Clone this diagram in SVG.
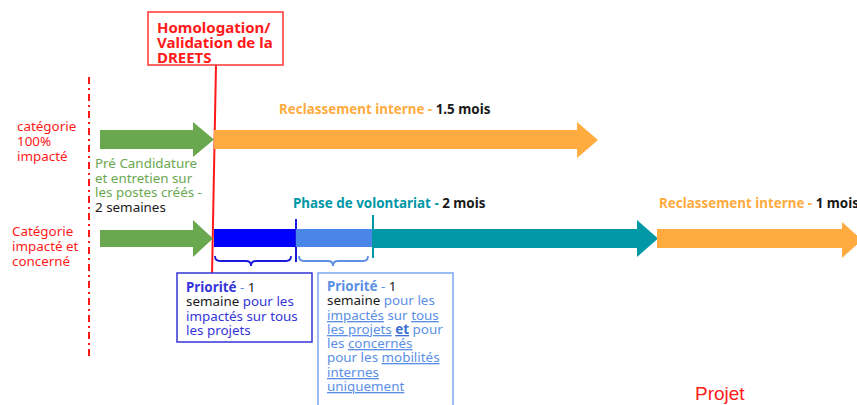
<svg xmlns="http://www.w3.org/2000/svg" width="857" height="405" viewBox="0 0 857 405">
<style>
text{font-family:"Noto Sans","Open Sans",sans-serif;font-size:13.4px}
.b{font-weight:bold}
.h{font-size:15px;font-weight:bold}
.red{fill:#ff1a1a}
.or{fill:#ffab40}
.dk{fill:#1a1a1a}
.gr{fill:#6aa84f}
.tl{fill:#0097a7}
.db{fill:#3535d8}
.lb{fill:#5b8fe6}
.u{text-decoration:underline}
.pj{font-family:"Liberation Sans",Arial,sans-serif;font-size:19px}
</style>
<rect width="857" height="405" fill="#fff"/>
<g id="connectors">
<line x1="89" y1="77" x2="89" y2="356" stroke="#ff1a1a" stroke-width="2" stroke-dasharray="7,4,2,4"/>
<line x1="216" y1="65" x2="212" y2="276" stroke="#ff1a1a" stroke-width="2"/>
</g>
<g id="validation">
<rect x="148" y="12" width="135" height="53" fill="#fff" stroke="#ff3333" stroke-width="1.5"/>
<text class="h red" x="157" y="33">Homologation/</text>
<text class="h red" x="157" y="48">Validation de la</text>
<text class="h red" x="157" y="63">DREETS</text>
</g>
<g id="label-cat1">
<text class="red" x="17" y="131">catégorie</text>
<text class="red" x="17" y="146">100%</text>
<text class="red" x="17" y="161">impacté</text>
</g>
<g id="label-cat2">
<text class="red" x="12" y="236">Catégorie</text>
<text class="red" x="12" y="251">impacté et</text>
<text class="red" x="12" y="266">concerné</text>
</g>
<g id="precandidature">
<polygon points="100,130 193,130 193,122 214,139.5 193,157 193,149 100,149" fill="#6aa84f"/>
<text class="gr" x="95" y="168">Pré Candidature</text>
<text class="gr" x="95" y="183">et entretien sur</text>
<text class="gr" x="95" y="197">les postes créés -</text>
<text class="dk" x="95" y="212">2 semaines</text>
</g>
<g id="reclassement1">
<polygon points="214,130 577,130 577,122 598,140 577,158 577,149 214,149" fill="#ffab40"/>
<text class="b" x="279" y="114"><tspan class="or">Reclassement interne - </tspan><tspan class="dk">1.5 mois</tspan></text>
</g>
<g id="precandidature2">
<polygon points="100,230 193,230 193,220 213,238.5 193,257 193,247 100,247" fill="#6aa84f"/>
</g>
<g id="priorite1-bar">
<rect x="214" y="229" width="82" height="18" fill="#0000ff"/>
<line x1="296" y1="219" x2="296" y2="262" stroke="#1a1ad8" stroke-width="2"/>
<path d="M215,256 Q215,261 220,261 L246,261 Q251,261 251,266 Q251,261 256,261 L286,261 Q291,261 291,256" fill="none" stroke="#1a1ad8" stroke-width="1.8"/>
</g>
<g id="priorite2-bar">
<rect x="296" y="229" width="77" height="18" fill="#4a86e8"/>
<path d="M299,256 Q299,261 304,261 L328,261 Q333,261 333,266 Q333,261 338,261 L363,261 Q368,261 368,256" fill="none" stroke="#5b8fe6" stroke-width="1.8"/>
</g>
<g id="volontariat">
<polygon points="373,229 637,229 637,220 658,238.5 637,257 637,248 373,248" fill="#0097a7"/>
<line x1="373" y1="215" x2="373" y2="258" stroke="#0097a7" stroke-width="2"/>
<text class="b" x="293" y="208"><tspan class="tl">Phase de volontariat - </tspan><tspan class="dk">2 mois</tspan></text>
</g>
<g id="reclassement2">
<polygon points="657,229 842,229 842,222 862,240 842,258 842,248 657,248" fill="#ffab40"/>
<text class="b" x="659" y="208"><tspan class="or">Reclassement interne - </tspan><tspan class="dk">1 mois</tspan></text>
</g>
<g id="box-priorite1">
<rect x="177" y="273" width="135" height="69" fill="#fff" stroke="#3535d8" stroke-width="1.5"/>
<text x="186" y="292"><tspan class="b db">Priorité</tspan><tspan class="lb"> - </tspan><tspan class="dk">1</tspan></text>
<text x="186" y="306"><tspan class="dk">semaine</tspan><tspan class="db"> pour les</tspan></text>
<text class="db" x="186" y="321">impactés sur tous</text>
<text class="db" x="186" y="335">les projets</text>
</g>
<g id="box-priorite2">
<rect x="318" y="273" width="135" height="140" fill="#fff" stroke="#7aa6ee" stroke-width="1.5"/>
<text x="327" y="291"><tspan class="b lb">Priorité</tspan><tspan class="lb"> - </tspan><tspan class="dk">1</tspan></text>
<text x="327" y="305"><tspan class="dk">semaine</tspan><tspan class="lb"> pour les</tspan></text>
<text class="lb" x="327" y="320"><tspan class="u">impactés</tspan> sur <tspan class="u">tous</tspan></text>
<text class="lb" x="327" y="334"><tspan class="u">les projets</tspan> <tspan class="u b" fill="#3a6fd0">et</tspan> pour</text>
<text class="lb" x="327" y="348">les <tspan class="u">concernés</tspan></text>
<text class="lb" x="327" y="362">pour les <tspan class="u">mobilités</tspan></text>
<text class="lb u" x="327" y="377">internes</text>
<text class="lb u" x="327" y="391">uniquement</text>
</g>
<g id="projet">
<text class="pj red" x="695" y="400">Projet</text>
</g>
</svg>
